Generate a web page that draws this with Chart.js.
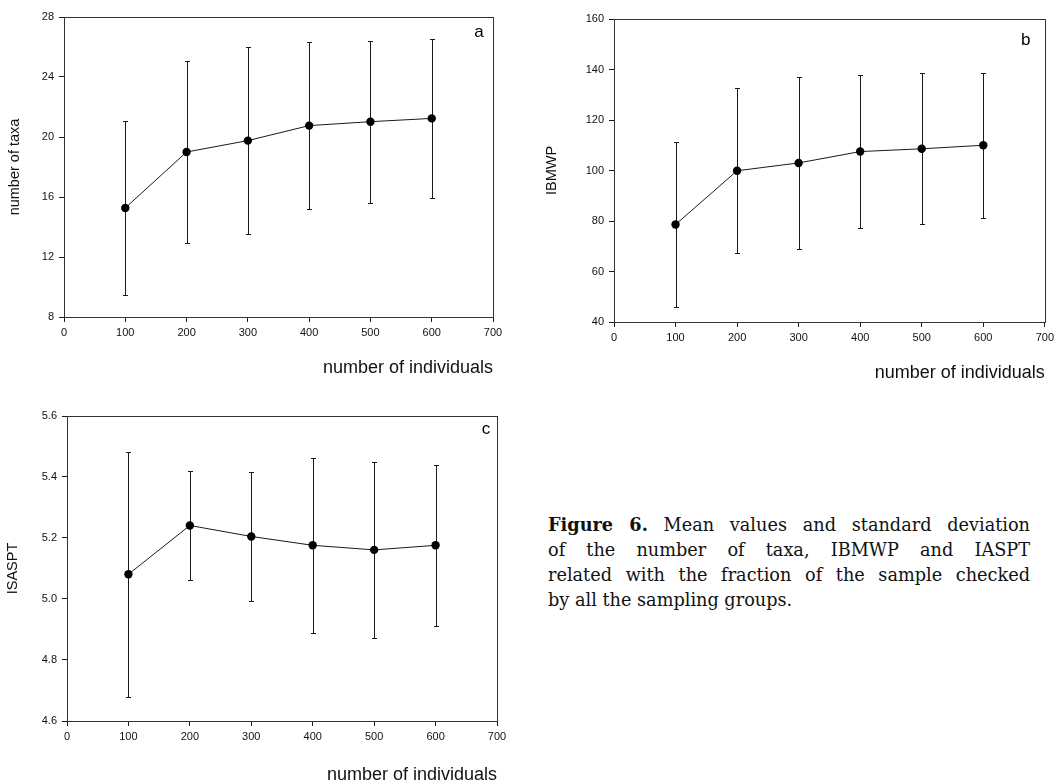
<!DOCTYPE html>
<html>
<head>
<meta charset="utf-8">
<script src="https://cdn.jsdelivr.net/npm/chart.js@4.4.1/dist/chart.umd.min.js"></script>
<style>
  html, body { margin: 0; padding: 0; background: #fff; overflow: hidden; }
  body { width: 1058px; height: 781px; position: relative; }
  canvas { position: absolute; }
  #caption {
    position: absolute; left: 548px; top: 512px; width: 482px;
    font-family: "DejaVu Serif", serif; font-size: 17.7px; line-height: 25px; color: #111;
  }
  #caption .j { text-align: justify; text-align-last: justify; }
</style>
</head>
<body>
<canvas id="panel-a" width="520" height="390" style="left:0;top:0"></canvas>
<canvas id="panel-b" width="528" height="390" style="left:530px;top:0"></canvas>
<canvas id="panel-c" width="520" height="390" style="left:0;top:400px"></canvas>
<div id="caption">
  <div class="j"><b>Figure 6.</b> Mean values and standard deviation</div>
  <div class="j">of the number of taxa, IBMWP and IASPT</div>
  <div class="j">related with the fraction of the sample checked</div>
  <div>by all the sampling groups.</div>
</div>
<script>
// Fig. 6 — mean ± SD vs number of individuals checked

const sampleSizes = [100, 200, 300, 400, 500, 600];
const xTicks      = [0, 100, 200, 300, 400, 500, 600, 700];

const taxaMean  = [15.27, 19.0, 19.76, 20.76, 21.02, 21.24];
const taxaSd    = [5.78, 6.04, 6.24, 5.55, 5.41, 5.30];
const taxaTicks = [8, 12, 16, 20, 24, 28];

const ibmwpMean  = [78.6, 99.9, 103.0, 107.5, 108.6, 110.0];
const ibmwpSd    = [32.8, 32.7, 33.9, 30.4, 29.9, 28.8];
const ibmwpTicks = [40, 60, 80, 100, 120, 140, 160];

const iasptMean  = [5.081, 5.241, 5.205, 5.176, 5.161, 5.176];
const iasptSd    = [0.402, 0.180, 0.210, 0.286, 0.288, 0.263];
const iasptTicks = [4.6, 4.8, 5.0, 5.2, 5.4, 5.6];

const ink  = "#1a1a1a";
const sans = "'Liberation Sans', Arial, sans-serif";

function errorBarPlugin(mean, sd) {
  return {
    id: "errorBars",
    beforeDatasetsDraw(chart) {
      const { ctx, scales: { x, y } } = chart;
      ctx.save();
      ctx.strokeStyle = ink;
      ctx.lineWidth = 1;
      mean.forEach((m, i) => {
        const px  = Math.round(x.getPixelForValue(sampleSizes[i])) + 0.5;
        const top = Math.round(y.getPixelForValue(m + sd[i])) + 0.5;
        const bot = Math.round(y.getPixelForValue(m - sd[i])) + 0.5;
        ctx.beginPath();
        ctx.moveTo(px, top); ctx.lineTo(px, bot);
        ctx.moveTo(px - 2.5, top); ctx.lineTo(px + 2.5, top);
        ctx.moveTo(px - 2.5, bot); ctx.lineTo(px + 2.5, bot);
        ctx.stroke();
      });
      ctx.restore();
    }
  };
}

function framePlugin(letter, dx, dy) {
  return {
    id: "frame",
    afterDraw(chart) {
      const { ctx, chartArea: a } = chart;
      ctx.save();
      ctx.strokeStyle = "#333";
      ctx.lineWidth = 1;
      ctx.strokeRect(Math.round(a.left) + 0.5, Math.round(a.top) + 0.5,
                     Math.round(a.right - a.left), Math.round(a.bottom - a.top));
      ctx.fillStyle = "#000";
      ctx.font = "17px " + sans;
      ctx.textAlign = "center";
      ctx.textBaseline = "middle";
      ctx.fillText(letter, a.right - dx, a.top + dy);
      ctx.restore();
    }
  };
}

function buildPanel(id, cfg) {
  new Chart(document.getElementById(id), {
    type: "line",
    data: {
      datasets: [{
        data: sampleSizes.map((n, i) => ({ x: n, y: cfg.mean[i] })),
        borderColor: ink,
        borderWidth: 1,
        backgroundColor: "#000",
        pointBackgroundColor: "#000",
        pointBorderColor: "#000",
        pointRadius: 4.2,
        pointBorderWidth: 0,
        tension: 0
      }]
    },
    options: {
      responsive: false,
      devicePixelRatio: 1,
      animation: false,
      layout: { padding: { top: cfg.top, right: cfg.right, left: 0, bottom: 0 } },
      plugins: { legend: { display: false }, tooltip: { enabled: false } },
      scales: {
        x: {
          type: "linear",
          min: 0, max: 700,
          afterFit: s => { s.height = cfg.xAxisH; },
          afterBuildTicks: s => { s.ticks = xTicks.map(v => ({ value: v })); },
          grid: { drawOnChartArea: false, drawTicks: true, tickLength: 5, color: ink },
          border: { display: true, color: ink, width: 1 },
          ticks: { color: "#111", font: { size: 11, family: sans }, padding: 4, maxRotation: 0 },
          title: {
            display: true, text: "number of individuals", align: "end",
            color: "#111", font: { size: 18, family: sans },
            padding: { top: 0, bottom: cfg.xTitlePad }
          }
        },
        y: {
          type: "linear",
          min: cfg.ticks[0], max: cfg.ticks[cfg.ticks.length - 1],
          afterFit: s => { s.width = cfg.yAxisW; },
          afterBuildTicks: s => { s.ticks = cfg.ticks.map(v => ({ value: v })); },
          grid: { drawOnChartArea: false, drawTicks: true, tickLength: 5, color: ink },
          border: { display: true, color: ink, width: 1 },
          ticks: {
            color: "#111", font: { size: 11, family: sans }, padding: 5,
            callback: v => cfg.decimals ? Number(v).toFixed(cfg.decimals) : v
          },
          title: {
            display: true, text: cfg.yTitle,
            color: "#111", font: { size: 14.5, family: sans },
            padding: { top: cfg.yTitlePad, bottom: 0 }
          }
        }
      }
    },
    plugins: [errorBarPlugin(cfg.mean, cfg.sd), framePlugin(cfg.letter, cfg.letterDx, cfg.letterDy)]
  });
}

buildPanel("panel-a", {
  mean: taxaMean, sd: taxaSd, ticks: taxaTicks, decimals: 0,
  yTitle: "number of taxa", letter: "a", letterDx: 14, letterDy: 15,
  top: 17, right: 27, yAxisW: 64, xAxisH: 73, xTitlePad: 11, yTitlePad: 6
});

buildPanel("panel-b", {
  mean: ibmwpMean, sd: ibmwpSd, ticks: ibmwpTicks, decimals: 0,
  yTitle: "IBMWP", letter: "b", letterDx: 19, letterDy: 21,
  top: 19, right: 11, yAxisW: 84, xAxisH: 68, xTitlePad: 6, yTitlePad: 13
});

buildPanel("panel-c", {
  mean: iasptMean, sd: iasptSd, ticks: iasptTicks, decimals: 1,
  yTitle: "ISASPT", letter: "c", letterDx: 11, letterDy: 13,
  top: 16, right: 23, yAxisW: 67, xAxisH: 69, xTitlePad: 4, yTitlePad: 4
});
</script>
</body>
</html>
